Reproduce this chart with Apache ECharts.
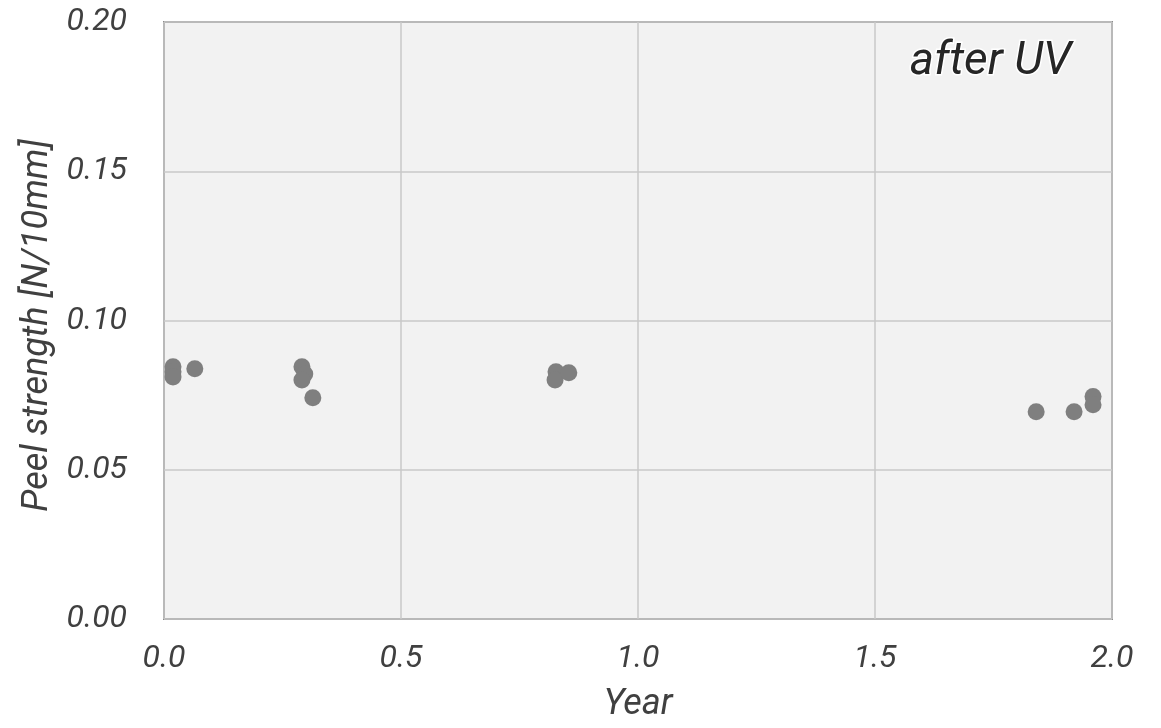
<!DOCTYPE html>
<html><head><meta charset="utf-8">
<script src="https://cdn.jsdelivr.net/npm/echarts@6/dist/echarts.min.js"></script>
<style>html,body{margin:0;padding:0;background:#fff}#c{width:1161px;height:728px}</style>
</head><body><div id="c"></div>
<script>
const years = [0.019, 0.019, 0.019, 0.065, 0.291, 0.297, 0.291, 0.314, 0.827, 0.825, 0.854, 1.840, 1.920, 1.960, 1.960];
const peel  = [0.0845, 0.0828, 0.0811, 0.0838, 0.0845, 0.0821, 0.0801, 0.0741, 0.0828, 0.0801, 0.0825, 0.0694, 0.0694, 0.0745, 0.0718];
const xTicks = ['0.0','0.5','1.0','1.5','2.0'];
const yTicks = ['0.00','0.05','0.10','0.15','0.20'];
const label = 'after UV';

const chart = echarts.init(document.getElementById('c'));
const font = {fontFamily:'Roboto', fontStyle:'italic', color:'#404040'};
chart.setOption({
  animation:false,
  grid:{left:164, top:22, right:49, bottom:107, show:true, backgroundColor:'#f2f2f2', borderColor:'#8a8a8a', borderWidth:2},
  xAxis:{type:'value', min:0, max:2, interval:0.5,
    name:'Year', nameLocation:'middle', nameGap:68,
    nameTextStyle:Object.assign({fontSize:36}, font),
    axisLine:{show:false}, axisTick:{show:false},
    splitLine:{lineStyle:{color:'#c8c8c8', width:1.5}},
    axisLabel:Object.assign({fontSize:32, margin:24, formatter:(v)=>xTicks[Math.round(v/0.5)]}, font)},
  yAxis:{type:'value', min:0, max:0.2, interval:0.05,
    name:'Peel strength [N/10mm]', nameLocation:'middle', nameGap:106,
    nameTextStyle:Object.assign({fontSize:36, padding:[0,10,0,0]}, font),
    axisLine:{show:false}, axisTick:{show:false},
    splitLine:{lineStyle:{color:'#c8c8c8', width:1.5}},
    axisLabel:Object.assign({fontSize:32, margin:37, formatter:(v)=>yTicks[Math.round(v/0.05)]}, font)},
  series:[{type:'scatter', symbol:'circle', symbolSize:17,
    itemStyle:{color:'#7f7f7f', opacity:1},
    data: years.map((x,i)=>[x, peel[i]])}],
  graphic:[{type:'text', right:88, top:38, z:10,
    style:{text:label, fontFamily:'Roboto', fontStyle:'italic', fontSize:46, fill:'#262626',
      stroke:'#ffffff', lineWidth:3}}]
});
</script></body></html>
